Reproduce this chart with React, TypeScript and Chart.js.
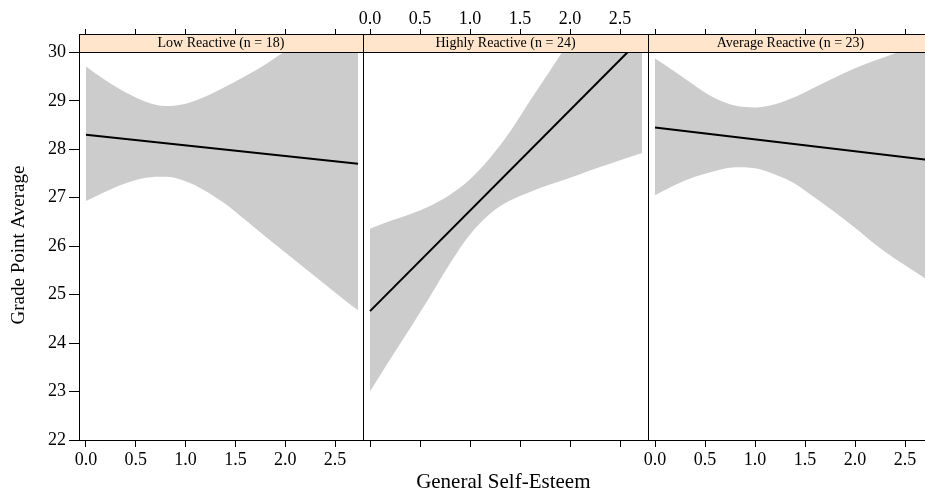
import React, { useEffect, useRef } from "react";
import { Chart, registerables } from "chart.js";

Chart.register(...registerables);

const FONT = "'Liberation Serif', 'Times New Roman', serif";

// Panel titles, ticks
const PANEL_TITLES = ["Low Reactive (n = 18)", "Highly Reactive (n = 24)", "Average Reactive (n = 23)"];
const X_TICKS = [0, 0.5, 1, 1.5, 2, 2.5];
const Y_TICKS = [22, 23, 24, 25, 26, 27, 28, 29, 30];
const X_TITLE = "General Self-Esteem";
const Y_TITLE = "Grade Point Average";

// Low Reactive
const lowBandX = [0, 0.2, 0.4, 0.6, 0.8, 1.0, 1.2, 1.4, 1.6, 1.8, 2.0, 2.2, 2.4, 2.6, 2.73];
const lowUpper = [29.71, 29.42, 29.17, 28.98, 28.89, 28.94, 29.09, 29.29, 29.51, 29.75, 30.02, 30.28, 30.55, 30.82, 31.0];
const lowLower = [26.93, 27.13, 27.3, 27.41, 27.43, 27.34, 27.14, 26.87, 26.54, 26.2, 25.87, 25.54, 25.21, 24.88, 24.68];
const lowFitX = [0, 2.73];
const lowFit = [28.3, 27.7];

// Highly Reactive
const highBandX = [0, 0.2, 0.4, 0.6, 0.8, 1.0, 1.2, 1.4, 1.6, 1.8, 2.0, 2.2, 2.4, 2.6, 2.72];
const highUpper = [26.36, 26.52, 26.66, 26.83, 27.06, 27.38, 27.82, 28.36, 29.0, 29.62, 30.25, 30.85, 31.4, 32.0, 32.3];
const highLower = [23.0, 23.66, 24.3, 24.96, 25.64, 26.24, 26.67, 26.94, 27.12, 27.27, 27.41, 27.56, 27.7, 27.84, 27.92];
const highFitX = [0, 2.72];
const highFit = [24.66, 30.3];

// Average Reactive
const avgBandX = [0, 0.2, 0.4, 0.6, 0.8, 1.0, 1.2, 1.4, 1.6, 1.8, 2.0, 2.2, 2.4, 2.6, 2.78];
const avgUpper = [29.87, 29.6, 29.31, 29.05, 28.9, 28.86, 28.93, 29.08, 29.28, 29.48, 29.67, 29.83, 29.98, 30.15, 30.3];
const avgLower = [27.05, 27.26, 27.43, 27.55, 27.63, 27.61, 27.48, 27.29, 27.0, 26.7, 26.38, 26.04, 25.74, 25.47, 25.22];
const avgFitX = [0, 2.78];
const avgFit = [28.45, 27.77];

const X_MIN = -0.07;
const X_MAX = 2.78;
const Y_MIN = 22;
const Y_MAX = 30;
const Y_STRIP_TOP = 30.378;

type Panel = {
  title: string;
  bandX: number[];
  upper: number[];
  lower: number[];
  fitX: number[];
  fit: number[];
  left: number;
  width: number;
  padLeft: number;
  showY: boolean;
  topLabels: boolean;
  bottomLabels: boolean;
  xTitle: boolean;
};

const PANELS: Panel[] = [
  { title: PANEL_TITLES[0], bandX: lowBandX, upper: lowUpper, lower: lowLower, fitX: lowFitX, fit: lowFit, left: 0, width: 363, padLeft: 0, showY: true, topLabels: false, bottomLabels: true, xTitle: false },
  { title: PANEL_TITLES[1], bandX: highBandX, upper: highUpper, lower: highLower, fitX: highFitX, fit: highFit, left: 343, width: 305, padLeft: 20, showY: false, topLabels: true, bottomLabels: false, xTitle: true },
  { title: PANEL_TITLES[2], bandX: avgBandX, upper: avgUpper, lower: avgLower, fitX: avgFitX, fit: avgFit, left: 628, width: 305, padLeft: 20, showY: false, topLabels: false, bottomLabels: true, xTitle: false },
];

const zip = (xs: number[], ys: number[]) => xs.map((x, i) => ({ x, y: ys[i] }));

function makePlugin(p: Panel) {
  return {
    id: "panelDecor",
    afterDatasetsDraw(chart: any) {
      const { ctx, chartArea } = chart;
      const { left, right, top, bottom } = chartArea;
      const stripBottom = chart.scales.y.getPixelForValue(Y_MAX);
      ctx.save();
      ctx.fillStyle = "#ffe5cc";
      ctx.fillRect(left, top, right - left, stripBottom - top);
      ctx.strokeStyle = "#000";
      ctx.lineWidth = 1;
      ctx.beginPath();
      const yT = Math.round(top) + 0.5;
      const yS = Math.round(stripBottom) + 0.5;
      const yB = Math.round(bottom) + 0.5;
      const xL = Math.round(left) + 0.5;
      ctx.moveTo(left, yT);
      ctx.lineTo(right, yT);
      ctx.moveTo(left, yS);
      ctx.lineTo(right, yS);
      ctx.moveTo(left, yB);
      ctx.lineTo(right, yB);
      ctx.moveTo(xL, top);
      ctx.lineTo(xL, bottom + 1);
      ctx.stroke();
      ctx.fillStyle = "#000";
      ctx.font = `14px ${FONT}`;
      ctx.textAlign = "center";
      ctx.textBaseline = "middle";
      ctx.fillText(p.title, (left + right) / 2, (top + stripBottom) / 2 + 0.5);
      ctx.restore();
    },
    afterDraw(chart: any) {
      const { ctx } = chart;
      ctx.save();
      ctx.fillStyle = "#000";
      ctx.textAlign = "center";
      ctx.textBaseline = "middle";
      if (p.showY) {
        ctx.font = `19px ${FONT}`;
        ctx.translate(19, 245);
        ctx.rotate(-Math.PI / 2);
        ctx.fillText(Y_TITLE, 0, 0);
      }
      if (p.xTitle) {
        ctx.font = `21px ${FONT}`;
        ctx.fillText(X_TITLE, 503.3 - p.left, 482.5);
      }
      ctx.restore();
    },
  };
}

function PanelChart({ p }: { p: Panel }) {
  const ref = useRef<HTMLCanvasElement | null>(null);
  useEffect(() => {
    if (!ref.current) return;
    const xTickBuilder = (s: any) => {
      s.ticks = X_TICKS.map((v) => ({ value: v }));
    };
    const chart = new Chart(ref.current, {
      type: "line",
      data: {
        datasets: [
          {
            data: zip(p.fitX, p.fit),
            borderColor: "#000",
            borderWidth: 2,
            pointRadius: 0,
            fill: false,
            clip: 0,
          },
          {
            data: zip(p.bandX, p.lower),
            borderColor: "rgba(0,0,0,0)",
            borderWidth: 0,
            pointRadius: 0,
            fill: false,
            cubicInterpolationMode: "monotone",
            clip: 0,
          },
          {
            data: zip(p.bandX, p.upper),
            borderColor: "rgba(0,0,0,0)",
            borderWidth: 0,
            pointRadius: 0,
            backgroundColor: "#cccccc",
            fill: 1,
            cubicInterpolationMode: "monotone",
            clip: 0,
          },
        ] as any,
      },
      options: {
        responsive: false,
        animation: false,
        devicePixelRatio: 1,
        events: [],
        layout: { padding: { left: p.padLeft, right: 0, top: 0, bottom: 0 }, autoPadding: false } as any,
        plugins: {
          legend: { display: false },
          tooltip: { enabled: false },
          title: { display: false },
        },
        scales: {
          x: {
            type: "linear",
            position: "bottom",
            min: X_MIN,
            max: X_MAX,
            afterBuildTicks: xTickBuilder,
            afterFit: (s: any) => {
              s.height = 51;
              s.paddingLeft = 0;
              s.paddingRight = 0;
            },
            grid: { display: true, drawOnChartArea: false, drawTicks: true, tickLength: 7, color: "#000" },
            border: { display: false },
            ticks: {
              color: p.bottomLabels ? "#000" : "rgba(0,0,0,0)",
              font: { family: FONT, size: 18 },
              padding: 2,
              maxRotation: 0,
              autoSkip: false,
              callback: (v: any) => Number(v).toFixed(1),
            },
          },
          x2: {
            type: "linear",
            position: "top",
            min: X_MIN,
            max: X_MAX,
            afterBuildTicks: xTickBuilder,
            afterFit: (s: any) => {
              s.height = 34;
              s.paddingLeft = 0;
              s.paddingRight = 0;
            },
            grid: { display: true, drawOnChartArea: false, drawTicks: true, tickLength: 5, color: "#000" },
            border: { display: false },
            ticks: {
              color: p.topLabels ? "#000" : "rgba(0,0,0,0)",
              font: { family: FONT, size: 18 },
              padding: -1.5,
              maxRotation: 0,
              autoSkip: false,
              callback: (v: any) => Number(v).toFixed(1),
            },
          },
          y: {
            type: "linear",
            position: "left",
            display: p.showY,
            min: Y_MIN,
            max: Y_STRIP_TOP,
            afterBuildTicks: (s: any) => {
              s.ticks = Y_TICKS.map((v) => ({ value: v }));
            },
            afterFit: (s: any) => {
              s.width = p.showY ? 79 : 0;
              s.paddingTop = 0;
              s.paddingBottom = 0;
            },
            grid: { display: true, drawOnChartArea: false, drawTicks: true, tickLength: 10, color: "#000" },
            border: { display: false },
            ticks: {
              color: "#000",
              font: { family: FONT, size: 18 },
              padding: 3,
              autoSkip: false,
              callback: (v: any) => String(v),
            },
          },
        } as any,
      },
      plugins: [makePlugin(p)],
    });
    return () => chart.destroy();
  }, [p]);
  return (
    <canvas
      ref={ref}
      width={p.width}
      height={491}
      style={{ position: "absolute", left: p.left, top: 0, width: p.width, height: 491, display: "block" }}
    />
  );
}

export default function App() {
  return (
    <div
      style={{
        position: "fixed",
        left: 0,
        top: 0,
        width: 925,
        height: 491,
        overflow: "hidden",
        background: "#fff",
      }}
    >
      {PANELS.map((p, i) => (
        <PanelChart key={i} p={p} />
      ))}
    </div>
  );
}
